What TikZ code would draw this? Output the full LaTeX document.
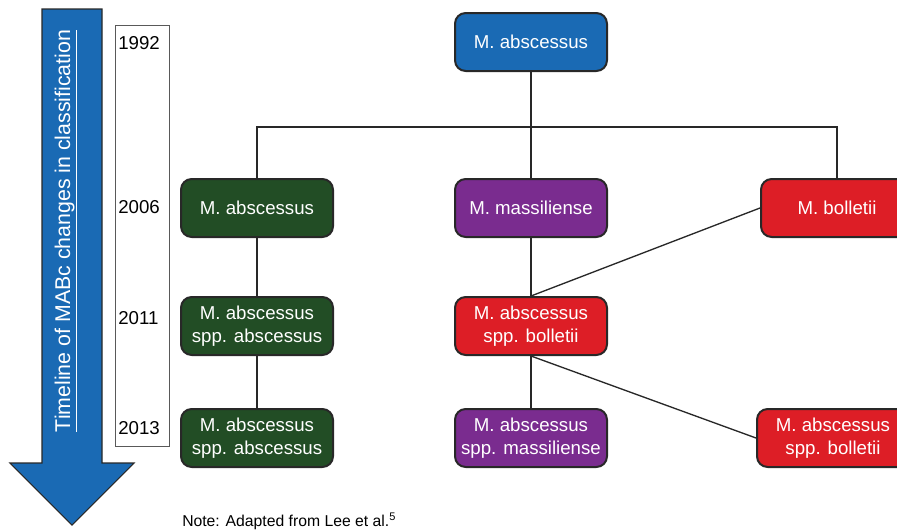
\documentclass[tikz,border=0pt]{standalone}
\usepackage{fontspec}
\setmainfont{Liberation Sans}
\usepackage{xcolor}
\usetikzlibrary{positioning,calc}

\definecolor{mabBlue}{RGB}{26,106,180}
\definecolor{mabGreen}{RGB}{34,77,37}
\definecolor{mabPurple}{RGB}{122,44,143}
\definecolor{mabRed}{RGB}{221,30,38}
\definecolor{edgeGray}{RGB}{40,40,40}

\begin{document}
\begin{tikzpicture}[
    x=0.75pt, y=-0.75pt,
    every node/.style={font=\fontsize{14}{17.25}\selectfont},
    taxon/.style={draw=edgeGray, line width=1.5pt, rounded corners=8pt, minimum width=114pt, minimum height=43.5pt, align=center, text=white, inner sep=2pt},
    link/.style={line width=1pt, draw=edgeGray},
    year/.style={anchor=west, inner sep=0pt},
  ]
  \useasboundingbox (0,0) rectangle (897,529);

  % Timeline arrow
  \draw[fill=mabBlue, draw=edgeGray, line width=0.8pt] (42,9) -- (102,9) -- (102,463) -- (134,463) -- (72,525) -- (10,463) -- (42,463) -- cycle;
  \node[rotate=90, text=white, font=\fontsize{16}{19}\selectfont] (timeline) at (66,231) {\underline{Timeline of MABc changes in classification}};

  % Year column
  \draw[gray!70!black, line width=0.6pt] (115,25) rectangle (169,446);
  \node[year] (y1992) at (118,43) {1992};
  \node[year] (y2006) at (118,207) {2006};
  \node[year] (y2011) at (118,318) {2011};
  \node[year] (y2013) at (118,428) {2013};

  % 1992 and 2006
  \node[taxon, fill=mabBlue] (mabs) at (531,42) {M. abscessus};
  \node[taxon, fill=mabGreen] (abs06) at (257,208) {M. abscessus};
  \node[taxon, fill=mabPurple] (mas06) at (531,208) {M. massiliense};
  \node[taxon, fill=mabRed] (bol06) at (837,208) {M. bolletii};

  % 2011
  \node[taxon, fill=mabGreen] (abs11) at (257,326) {M. abscessus\\spp. abscessus};
  \node[taxon, fill=mabRed] (bol11) at (531,326) {M. abscessus\\spp. bolletii};

  % 2013
  \node[taxon, fill=mabGreen] (abs13) at (257,438) {M. abscessus\\spp. abscessus};
  \node[taxon, fill=mabPurple] (mas13) at (531,438) {M. abscessus\\spp. massiliense};
  \node[taxon, fill=mabRed] (bol13) at (833,438) {M. abscessus\\spp. bolletii};

  % Connectors
  \coordinate (bus) at (531,127);
  \draw[link] (mabs.south) -- (mas06.north);
  \draw[link] (abs06.north) |- (bus) -| (bol06.north);
  \draw[link] (abs06.south) -- (abs11.north);
  \draw[link] (abs11.south) -- (abs13.north);
  \draw[link] (mas06.south) -- (bol11.north);
  \draw[link] (bol06.west) -- (bol11.north);
  \draw[link] (bol11.south) -- (mas13.north);
  \draw[link] (bol11.south) -- (bol13.west);

  % Note
  \node[anchor=base west, font=\fontsize{11.8}{14}\selectfont, inner sep=0pt] (note) at (182,526) {Note: Adapted from Lee et al.\textsuperscript{5}};

\end{tikzpicture}
\end{document}
